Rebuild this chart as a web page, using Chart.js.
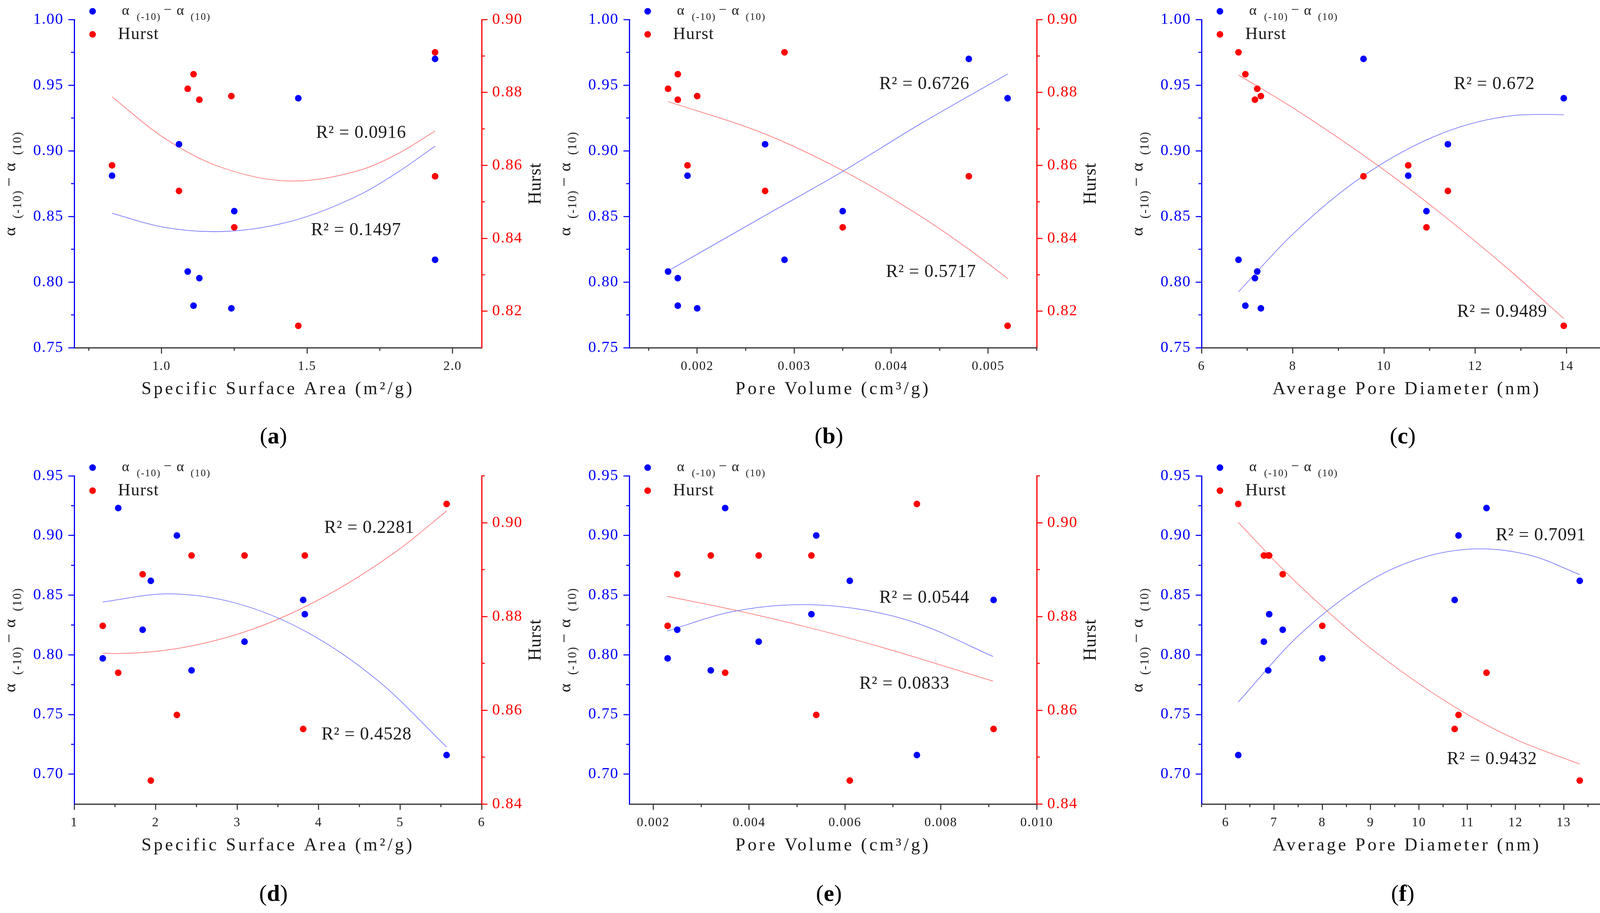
<!DOCTYPE html>
<html><head><meta charset="utf-8"><title>Multifractal parameters vs pore structure</title>
<script src="https://cdn.jsdelivr.net/npm/chart.js@4.4.1/dist/chart.umd.min.js"></script>
<style>
html,body{margin:0;padding:0;background:#fff;}
body{width:4297px;height:2337px;position:relative;overflow:hidden;}
.panel{position:absolute;}
.panel canvas{position:absolute;left:0;top:0;}
.plabel{position:absolute;transform:translate(-50%,-50%);font-family:"Liberation Serif","DejaVu Serif",serif;font-size:60px;color:#000;line-height:1;white-space:nowrap;}
</style></head><body>
<script>
// ===== Data: samples of the top row (a)-(c) =====
const alphaTop = [0.881,0.905,0.808,0.782,0.803,0.780,0.854,0.940,0.970,0.817];
const hurstTop = [0.860,0.853,0.881,0.885,0.878,0.879,0.843,0.816,0.857,0.891];
const ssaTop   = [0.83,1.06,1.09,1.11,1.13,1.24,1.25,1.47,1.94,1.94];
const pvTop    = [0.0019,0.0027,0.0017,0.0018,0.0018,0.0020,0.0035,0.0052,0.0048,0.0029];
const apdTop   = [10.53,11.40,7.22,6.96,7.17,7.30,10.93,13.94,9.55,6.81];

// ===== Data: samples of the bottom row (d)-(f) =====
const alphaBot = [0.797,0.923,0.821,0.862,0.900,0.787,0.811,0.846,0.834,0.716];
const hurstBot = [0.878,0.868,0.889,0.845,0.859,0.893,0.893,0.856,0.893,0.904];
const ssaBot   = [1.35,1.54,1.84,1.94,2.26,2.44,3.09,3.81,3.83,5.57];
const pvBot    = [0.0023,0.0035,0.0025,0.0061,0.0054,0.0032,0.0042,0.0091,0.0053,0.0075];
const apdBot   = [8.00,11.40,7.18,13.33,10.82,6.88,6.79,10.74,6.90,6.26];

// ===== Fitted trend curves =====
const fitAlphaAx = [0.83,1.0,1.18,1.44,1.69,1.81,1.94];
const fitAlphaAy = [0.8524,0.8421,0.8384,0.8460,0.8675,0.8834,0.9035];
const fitHurstAx = [0.83,1.0,1.19,1.45,1.69,1.81,1.94];
const fitHurstAy = [0.8788,0.8680,0.8599,0.8557,0.8589,0.8631,0.8694];
const fitAlphaBx = [0.0017,0.0027,0.0035,0.0043,0.0052];
const fitAlphaBy = [0.8085,0.8507,0.8843,0.9205,0.9585];
const fitHurstBx = [0.0017,0.0027,0.00357,0.0043,0.0048,0.0052];
const fitHurstBy = [0.8775,0.8686,0.8576,0.8461,0.8370,0.8290];
const fitAlphaCx = [6.81,8.0,9.55,11.27,12.85,13.49,13.94];
const fitAlphaCy = [0.7926,0.8365,0.881,0.9133,0.9269,0.9277,0.9275];
const fitHurstCx = [6.81,8.0,9.93,11.27,12.85,13.94];
const fitHurstCy = [0.8848,0.8758,0.8594,0.8466,0.8302,0.8180];
const fitAlphaDx = [1.35,2.14,2.97,3.86,4.75,5.57];
const fitAlphaDy = [0.8443,0.8511,0.8436,0.8189,0.7771,0.7228];
const fitHurstDx = [1.35,1.52,2.31,3.19,4.08,4.97,5.57];
const fitHurstDy = [0.8722,0.8721,0.8733,0.8773,0.8843,0.8941,0.9025];
const fitAlphaEx = [0.00229,0.00364,0.00512,0.00643,0.00756,0.00909];
const fitAlphaEy = [0.8200,0.8361,0.8421,0.8374,0.8257,0.7986];
const fitHurstEx = [0.00229,0.00368,0.00530,0.00681,0.00909];
const fitHurstEy = [0.8843,0.8814,0.8775,0.8733,0.8662];
const fitAlphaFx = [6.26,7.50,8.99,10.11,11.27,12.36,13.33];
const fitAlphaFy = [0.7605,0.8158,0.8622,0.8819,0.8888,0.8828,0.8672];
const fitHurstFx = [6.26,7.18,8.02,8.99,10.74,11.98,13.33];
const fitHurstFy = [0.9001,0.8901,0.8819,0.8733,0.8607,0.8539,0.8485];

// ===== R² labels =====
const r2A = ['0.0916','0.1497'];
const r2B = ['0.6726','0.5717'];
const r2C = ['0.672','0.9489'];
const r2D = ['0.2281','0.4528'];
const r2E = ['0.0544','0.0833'];
const r2F = ['0.7091','0.9432'];

// ===== Axis ranges and tick labels =====
const alphaRangeTop = [0.75,1.00], alphaTicksTop = [0.75,0.80,0.85,0.90,0.95,1.00], alphaMinorTop = [0.775,0.825,0.875,0.925,0.975];
const hurstRangeTop = [0.81,0.90], hurstTicksTop = [0.82,0.84,0.86,0.88,0.90], hurstMinorTop = [0.83,0.85,0.87,0.89];
const alphaRangeBot = [0.675,0.95], alphaTicksBot = [0.70,0.75,0.80,0.85,0.90,0.95], alphaMinorBot = [0.725,0.775,0.825,0.875,0.925];
const hurstRangeBot = [0.84,0.91], hurstTicksBot = [0.84,0.86,0.88,0.90], hurstMinorBot = [0.85,0.87,0.89,0.91];
const xRangeA = [0.7,2.1],      xTicksA = [1.0,1.5,2.0],                 xMinorA = [0.75,1.25,1.75];
const xRangeB = [0.0013,0.0055], xTicksB = [0.002,0.003,0.004,0.005],    xMinorB = [0.0015,0.0025,0.0035,0.0045,0.0055];
const xRangeC = [6,15],         xTicksC = [6,8,10,12,14],                xMinorC = [7,9,11,13,15];
const xRangeD = [1,6],          xTicksD = [1,2,3,4,5,6],                 xMinorD = [1.5,2.5,3.5,4.5,5.5];
const xRangeE = [0.0015,0.010], xTicksE = [0.002,0.004,0.006,0.008,0.010], xMinorE = [0.003,0.005,0.007,0.009];
const xRangeF = [5.5,14],       xTicksF = [6,7,8,9,10,11,12,13,14],      xMinorF = [5.5,6.5,7.5,8.5,9.5,10.5,11.5,12.5,13.5];

const xTitleSSA = 'Specific Surface Area (m²/g)';
const xTitlePV  = 'Pore Volume (cm³/g)';
const xTitleAPD = 'Average Pore Diameter (nm)';

// ===== Layout =====
const FONT = '"Liberation Serif","DejaVu Serif",serif';
const TOP = 50, BOTTOM = 890;

const panels = [
 {lab:'a', px:0,    py:0,    w:1432, h:1168, L:190, R:1233, labPos:[700,1115],
  x:ssaTop, alpha:alphaTop, hurst:hurstTop, xr:xRangeA, xt:xTicksA, xm:xMinorA, xdec:1,
  ya:alphaRangeTop, yat:alphaTicksTop, yam:alphaMinorTop, yh:hurstRangeTop, yht:hurstTicksTop, yhm:hurstMinorTop,
  fitA:[fitAlphaAx,fitAlphaAy], fitH:[fitHurstAx,fitHurstAy], xTitle:xTitleSSA, r2:r2A, r2pos:[[809,341],[796,590]]},
 {lab:'b', px:1432, py:0,    w:1432, h:1168, L:179, R:1222, labPos:[2122,1115],
  x:pvTop, alpha:alphaTop, hurst:hurstTop, xr:xRangeB, xt:xTicksB, xm:xMinorB, xdec:3,
  ya:alphaRangeTop, yat:alphaTicksTop, yam:alphaMinorTop, yh:hurstRangeTop, yht:hurstTicksTop, yhm:hurstMinorTop,
  fitA:[fitAlphaBx,fitAlphaBy], fitH:[fitHurstBx,fitHurstBy], xTitle:xTitlePV, r2:r2B, r2pos:[[819,216],[836,697]]},
 {lab:'c', px:2864, py:0,    w:1433, h:1168, L:212, R:1263, labPos:[3591,1115],
  x:apdTop, alpha:alphaTop, hurst:hurstTop, xr:xRangeC, xt:xTicksC, xm:xMinorC, xdec:0,
  ya:alphaRangeTop, yat:alphaTicksTop, yam:alphaMinorTop, yh:hurstRangeTop, yht:hurstTicksTop, yhm:hurstMinorTop,
  fitA:[fitAlphaCx,fitAlphaCy], fitH:[fitHurstCx,fitHurstCy], xTitle:xTitleAPD, r2:r2C, r2pos:[[858,216],[866,799]]},
 {lab:'d', px:0,    py:1168, w:1432, h:1169, L:190, R:1233, labPos:[700,2286],
  x:ssaBot, alpha:alphaBot, hurst:hurstBot, xr:xRangeD, xt:xTicksD, xm:xMinorD, xdec:0,
  ya:alphaRangeBot, yat:alphaTicksBot, yam:alphaMinorBot, yh:hurstRangeBot, yht:hurstTicksBot, yhm:hurstMinorBot,
  fitA:[fitAlphaDx,fitAlphaDy], fitH:[fitHurstDx,fitHurstDy], xTitle:xTitleSSA, r2:r2D, r2pos:[[830,184],[823,713]]},
 {lab:'e', px:1432, py:1168, w:1432, h:1169, L:179, R:1222, labPos:[2122,2286],
  x:pvBot, alpha:alphaBot, hurst:hurstBot, xr:xRangeE, xt:xTicksE, xm:xMinorE, xdec:3,
  ya:alphaRangeBot, yat:alphaTicksBot, yam:alphaMinorBot, yh:hurstRangeBot, yht:hurstTicksBot, yhm:hurstMinorBot,
  fitA:[fitAlphaEx,fitAlphaEy], fitH:[fitHurstEx,fitHurstEy], xTitle:xTitlePV, r2:r2E, r2pos:[[819,363],[768,583]]},
 {lab:'f', px:2864, py:1168, w:1433, h:1169, L:212, R:1263, labPos:[3591,2286],
  x:apdBot, alpha:alphaBot, hurst:hurstBot, xr:xRangeF, xt:xTicksF, xm:xMinorF, xdec:0,
  ya:alphaRangeBot, yat:alphaTicksBot, yam:alphaMinorBot, yh:hurstRangeBot, yht:hurstTicksBot, yhm:hurstMinorBot,
  fitA:[fitAlphaFx,fitAlphaFy], fitH:[fitHurstFx,fitHurstFy], xTitle:xTitleAPD, r2:r2F, r2pos:[[965,203],[840,776]]}
];

function txt(ctx, s, x, y, size, o){
  o = o || {};
  ctx.font = (o.bold ? 'bold ' : '') + size + 'px ' + FONT;
  ctx.letterSpacing = (o.ls || 0) + 'px';
  ctx.fillStyle = o.color || '#1a1a1a';
  ctx.textAlign = o.align || 'left';
  ctx.textBaseline = 'middle';
  ctx.fillText(s, x, y);
}
function drawAlphaLabel(ctx, x0, y0, k){
  const big = 36*k, sm = 26*k;
  txt(ctx, 'α', x0, y0, big);
  txt(ctx, '(-10)', x0 + 38*k, y0 + 15*k, sm, {ls:2*k});
  txt(ctx, '−', x0 + 107*k, y0 - 2*k, big);
  txt(ctx, 'α', x0 + 140*k, y0, big);
  txt(ctx, '(10)', x0 + 176*k, y0 + 15*k, sm, {ls:2*k});
}
function dot(ctx, x, y, c){
  ctx.fillStyle = c; ctx.beginPath(); ctx.arc(x, y, 8.5, 0, Math.PI*2); ctx.fill();
}

function makePlugin(p){
  return {
    id: 'deco' + p.lab,
    beforeDraw(chart){ chart.ctx.letterSpacing = '2px'; },
    afterDraw(chart){
      const ctx = chart.ctx, a = chart.chartArea;
      const sx = chart.scales.x, sy = chart.scales.y, sh = chart.scales.y2;
      ctx.save();
      ctx.letterSpacing = '0px';
      // minor tick marks
      ctx.lineWidth = 2.7;
      ctx.strokeStyle = '#333';
      p.xm.forEach(v => { const X = sx.getPixelForValue(v); ctx.beginPath(); ctx.moveTo(X, a.bottom); ctx.lineTo(X, a.bottom + 8); ctx.stroke(); });
      ctx.strokeStyle = '#0000ff';
      p.yam.forEach(v => { const Y = sy.getPixelForValue(v); ctx.beginPath(); ctx.moveTo(a.left - 8, Y); ctx.lineTo(a.left, Y); ctx.stroke(); });
      ctx.strokeStyle = '#ff0000';
      p.yhm.forEach(v => { const Y = sh.getPixelForValue(v); ctx.beginPath(); ctx.moveTo(a.right, Y); ctx.lineTo(a.right + 8, Y); ctx.stroke(); });
      // legend
      dot(ctx, a.left + 47, TOP - 21, '#0000ff');
      dot(ctx, a.left + 47, TOP + 38, '#ff0000');
      drawAlphaLabel(ctx, a.left + 122, TOP - 21, 1);
      txt(ctx, 'Hurst', a.left + 112, TOP + 38, 44, {ls:1.5});
      // x axis title
      txt(ctx, p.xTitle, (a.left + a.right)/2, 997, 46, {ls:6, align:'center'});
      // right axis title
      ctx.save(); ctx.translate(a.right + 139, (a.top + a.bottom)/2); ctx.rotate(-Math.PI/2);
      txt(ctx, 'Hurst', 0, 0, 46, {ls:1, align:'center'}); ctx.restore();
      // left axis title
      ctx.save(); ctx.translate(a.left - 162, (a.top + a.bottom)/2); ctx.rotate(-Math.PI/2);
      drawAlphaLabel(ctx, -134, 0, 1.18); ctx.restore();
      // R² annotations
      p.r2.forEach((s, i) => txt(ctx, 'R² = ' + s, p.r2pos[i][0], p.r2pos[i][1], 46, {ls:1}));
      ctx.restore();
    }
  };
}

function axis(pos, range, ticks, dec, lineColor, labColor, size, fit){
  return {
    type:'linear', position:pos, min:range[0], max:range[1],
    afterBuildTicks: s => { s.ticks = ticks.map(v => ({value:v})); },
    afterFit: fit,
    ticks:{autoSkip:false, maxRotation:0, minRotation:0, color:labColor,
      font:{family:FONT, size:size}, padding: pos === 'bottom' ? 14 : 12,
      callback: v => Number(v).toFixed(dec)},
    grid:{drawOnChartArea:false, color:lineColor, tickColor:lineColor, tickLength:15, tickWidth:2.7, lineWidth:2.7},
    border:{display:true, color:lineColor, width:3},
    title:{display:false}
  };
}

function cfg(p){
  const pts = (xs, ys) => xs.map((x, i) => ({x:x, y:ys[i]}));
  return {
    type:'scatter',
    data:{datasets:[
      {label:'α(-10)−α(10)', data:pts(p.x, p.alpha), yAxisID:'y', backgroundColor:'#0000ff', borderWidth:0, pointRadius:8.5, pointHoverRadius:8.5, order:0},
      {label:'Hurst', data:pts(p.x, p.hurst), yAxisID:'y2', backgroundColor:'#ff0000', borderWidth:0, pointRadius:8.5, pointHoverRadius:8.5, order:0},
      {type:'line', label:'fit α', data:pts(p.fitA[0], p.fitA[1]), yAxisID:'y', borderColor:'#7b7bff', borderWidth:1.8, pointRadius:0, fill:false, cubicInterpolationMode:'monotone', order:1},
      {type:'line', label:'fit Hurst', data:pts(p.fitH[0], p.fitH[1]), yAxisID:'y2', borderColor:'#ff7b7b', borderWidth:1.8, pointRadius:0, fill:false, cubicInterpolationMode:'monotone', order:1}
    ]},
    options:{
      responsive:false, animation:false, devicePixelRatio:1, events:[],
      layout:{padding:{top:TOP, left:0, right:0, bottom:0}},
      plugins:{legend:{display:false}, tooltip:{enabled:false}, title:{display:false}},
      scales:{
        x:  axis('bottom', p.xr, p.xt, p.xdec, '#333', '#1a1a1a', 33, s => { s.height = p.h - BOTTOM; }),
        y:  axis('left',   p.ya, p.yat, 2, '#0000ff', '#0000ff', 40, s => { s.width = p.L; }),
        y2: axis('right',  p.yh, p.yht, 2, '#ff0000', '#ff0000', 40, s => { s.width = p.w - p.R; })
      }
    },
    plugins:[makePlugin(p)]
  };
}

panels.forEach(p => {
  const div = document.createElement('div');
  div.className = 'panel';
  div.style.left = p.px + 'px'; div.style.top = p.py + 'px';
  div.style.width = p.w + 'px'; div.style.height = p.h + 'px';
  const cv = document.createElement('canvas');
  cv.width = p.w; cv.height = p.h;
  cv.style.width = p.w + 'px'; cv.style.height = p.h + 'px';
  div.appendChild(cv);
  document.body.appendChild(div);
  const lab = document.createElement('div');
  lab.className = 'plabel';
  lab.style.left = p.labPos[0] + 'px'; lab.style.top = p.labPos[1] + 'px';
  lab.innerHTML = '(<b>' + p.lab + '</b>)';
  document.body.appendChild(lab);
  new Chart(cv.getContext('2d'), cfg(p));
});
</script>
</body></html>
